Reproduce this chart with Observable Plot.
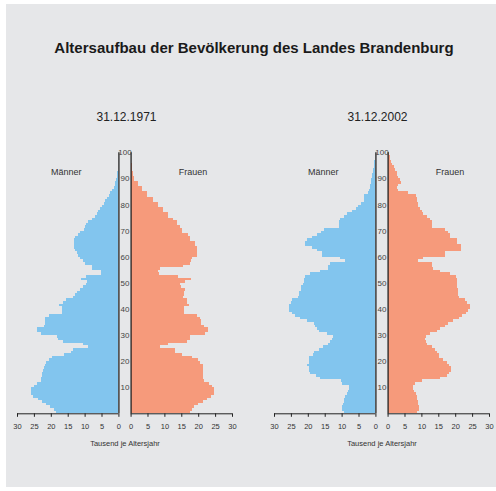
<!DOCTYPE html>
<html>
<head>
<meta charset="utf-8">
<script src="https://cdn.jsdelivr.net/npm/d3@7"></script>
<script src="https://cdn.jsdelivr.net/npm/@observablehq/plot@0.6"></script>
<style>
  html, body { margin: 0; padding: 0; background: #fff; overflow: hidden; }
  #wrap { position: relative; width: 496px; height: 491px; font-family: "Liberation Sans", Arial, Helvetica, sans-serif; color: #333; }
  #bg { position: absolute; left: 6px; top: 4px; width: 490px; height: 483px; background: #e6e7e9; }
  .t { position: absolute; white-space: nowrap; transform: translate(-50%, -50%); }
  .panel { position: absolute; top: 140px; width: 248px; height: 320px; }
  .panel svg { max-width: none !important; }
</style>
</head>
<body>
<div id="wrap">
  <div id="bg"></div>
</div>
<script>
// ---- data (thousands per single year of age, ages 0..99) ----
const title = "Altersaufbau der Bevölkerung des Landes Brandenburg";
const panelTitles = ["31.12.1971", "31.12.2002"];
const sexLabels = ["Männer", "Frauen"];
const xLabel = "Tausend je Altersjahr";
const xTicks = [0, 5, 10, 15, 20, 25, 30];
const ageTicks = [10, 20, 30, 40, 50, 60, 70, 80, 90, 100];

const men1971 = [
  18.5, 19, 20.3, 21.3, 22.5, 23.8, 25.2, 25.8, 26, 26,
  25, 24.2, 23, 23, 22.7, 22.5, 22.3, 22, 21.7, 21.3,
  20.5, 19.5, 16, 14, 13.5, 9, 10.5, 16.5, 18, 18.3,
  23, 24, 24, 22, 21.8, 21.8, 21.8, 20.5, 16.8, 16.8,
  16.8, 17.5, 16.5, 15.5, 13.5, 12.8, 12.3, 11.5, 10.5, 9.5,
  9.3, 11, 9.5, 5.2, 5.2, 7.8, 7.8, 10, 10.5, 11.3,
  12, 12.2, 12.8, 13, 13.1, 13.1, 13, 12.8, 12.1, 11.5,
  10.2, 10, 9.6, 9.1, 7.8, 7, 6.4, 5.9, 5.4, 4.9,
  4.4, 3.9, 3.4, 2.9, 2.4, 1.9, 1.4, 1.1, 0.9, 0.7,
  0.5, 0.4, 0.3, 0.2, 0.1, 0, 0, 0, 0, 0
];
const women1971 = [
  17.5, 18.3, 18.8, 19.9, 21.3, 22.5, 23.7, 24.7, 24.7, 24.7,
  24.2, 23.1, 21.7, 21.5, 21.5, 21.5, 21.3, 21.3, 21.3, 20.5,
  19.8, 18.3, 15.1, 13.1, 13.1, 8.7, 11, 16.6, 17.7, 17.5,
  22, 23, 23, 21.7, 20.7, 20.7, 20.5, 19.5, 15.8, 15.8,
  15.8, 17.2, 16.6, 16.6, 15.6, 15.8, 15.8, 16.1, 15, 14.6,
  16.1, 18, 14, 8.5, 8.2, 8.7, 15.5, 17.5, 18, 18.3,
  19.5, 19.5, 19.7, 19.7, 19, 19, 17.5, 17.5, 17, 15.1,
  15.1, 14.6, 13.6, 13.6, 12.6, 11.2, 11.2, 9.7, 9.7, 8.2,
  8.2, 6.6, 6.6, 4.8, 4.8, 3.3, 3.3, 2.1, 2.1, 1.1,
  1.1, 0.7, 0.7, 0.5, 0.4, 0.3, 0.1, 0, 0, 0
];
const men2002 = [
  9.2, 9.8, 9.8, 9.6, 9.2, 9.2, 8.9, 8.4, 8.1, 7.7,
  7.7, 9.9, 10.1, 16.3, 17.5, 19.3, 19.5, 19.5, 20.1, 19.5,
  19.5, 19.5, 18.5, 18.3, 16.7, 15.5, 13.9, 13.4, 12.9, 12.5,
  14.2, 16.8, 17.3, 17.8, 18.3, 20.2, 22.3, 23.8, 24.8, 25.7,
  25.7, 25.7, 25, 24.7, 22.8, 22.5, 22.5, 22.1, 22.1, 21.5,
  21.1, 21.1, 20.7, 19.3, 16.3, 13.9, 13.9, 13.4, 8.9, 10.4,
  15.8, 15.8, 17.3, 18.8, 20.8, 20.8, 20.3, 18.8, 17.3, 16.1,
  15.1, 10.9, 10.9, 10.9, 10.6, 9.4, 8.4, 6.9, 5.8, 5.2,
  4.3, 3.5, 3.5, 3.4, 2.2, 2, 1.7, 1.5, 1.3, 1.2,
  1, 0.9, 0.7, 0.6, 0.4, 0.3, 0.3, 0.2, 0.1, 0.1
];
const women2002 = [
  8.7, 9.2, 9.2, 8.9, 8.9, 8.8, 8.8, 8.5, 7.9, 7.4,
  7.4, 8.2, 10.1, 15.5, 17.5, 18.3, 18.7, 18.7, 18.3, 17.5,
  16.5, 15.3, 15.3, 14.6, 14.1, 13.1, 11.6, 11.4, 11, 11.3,
  12.6, 14.6, 15.5, 17, 18, 19.3, 21, 21.9, 23.2, 23.9,
  24.4, 24.4, 23.6, 22.9, 21.2, 20.9, 20.9, 20.9, 20.5, 20.5,
  20.6, 20.6, 20.3, 18.5, 15.5, 13.4, 13.1, 13.1, 9.1, 10.6,
  17, 17, 21.6, 21.6, 21.6, 20.5, 20.5, 18.5, 18.5, 18,
  17, 13.1, 13.1, 13.1, 12.6, 11.6, 10.6, 10.1, 9.6, 9.1,
  9.1, 8.8, 8.8, 8.5, 6, 3.2, 2.7, 3.2, 3.9, 3.7,
  3.2, 2.8, 2.7, 2.3, 1.8, 1.3, 1.1, 0.8, 0.6, 0.4
];

// ---- styling ----
const BLUE = "#82c5ee";
const SALMON = "#f69a7b";
const INK = "#222";
const G = 1.8; // half-gap between the two halves, in data units
const FONT = '"Liberation Sans", Arial, Helvetica, sans-serif';

const wrap = document.getElementById("wrap");
function addText(txt, x, y, css) {
  const d = document.createElement("div");
  d.className = "t";
  d.textContent = txt;
  d.style.left = x + "px";
  d.style.top = y + "px";
  Object.assign(d.style, css || {});
  wrap.appendChild(d);
}

addText(title, 254, 47, {fontSize: "15px", fontWeight: "bold", color: "#1a1a1a"});

function pyramid(men, women) {
  const rowsM = men.map((v, i) => ({age: i, v})).filter(d => d.v > 0);
  const rowsW = women.map((v, i) => ({age: i, v})).filter(d => d.v > 0);
  const maxT = d3.max(xTicks);
  const tickPos = [...xTicks.map(t => -t - G), ...xTicks.map(t => t + G)];
  return Plot.plot({
    width: 248,
    height: 320,
    marginLeft: 17,
    marginRight: 16,
    marginTop: 12.3,
    marginBottom: 46.7,
    style: {background: "transparent", fontFamily: FONT, color: "#333", overflow: "visible", maxWidth: "none"},
    x: {domain: [-maxT - G, maxT + G], axis: null},
    y: {domain: [0, 100], axis: null},
    marks: [
      Plot.rect(rowsM, {x1: () => -G, x2: d => -d.v - G, y1: d => d.age, y2: d => d.age + 1, fill: BLUE, shapeRendering: "crispEdges"}),
      Plot.rect(rowsW, {x1: () => G, x2: d => d.v + G, y1: d => d.age, y2: d => d.age + 1, fill: SALMON, shapeRendering: "crispEdges"}),
      Plot.ruleX([-G, G], {y1: () => 0, y2: () => d3.max(ageTicks), stroke: INK, strokeWidth: 1.3}),
      Plot.ruleY([0], {x1: () => -maxT - G, x2: () => -G, stroke: INK, strokeWidth: 1}),
      Plot.ruleY([0], {x1: () => G, x2: () => maxT + G, stroke: INK, strokeWidth: 1}),
      Plot.axisX(tickPos, {
        tickFormat: d => String(Math.round(Math.abs(d) - G)),
        tickSize: 3.5, tickPadding: 6.5, fontSize: 7.5, stroke: INK, fill: "#333", strokeWidth: 1
      }),
      Plot.text(ageTicks, {x: () => 0, y: d => d, text: d => String(d), fontSize: 8, fill: "#444"})
    ]
  });
}

const panels = [[men1971, women1971], [men2002, women2002]];
const offsets = [0, 257];
panels.forEach(([m, w], i) => {
  const host = document.createElement("div");
  host.className = "panel";
  host.style.left = offsets[i] + "px";
  host.appendChild(pyramid(m, w));
  wrap.appendChild(host);
  const ox = offsets[i];
  addText(panelTitles[i], ox + (i === 0 ? 126.5 : 120.5), 116.5, {fontSize: "12px", color: "#222"});
  addText(sexLabels[0], ox + 66.3, 172, {fontSize: "9px", color: "#333"});
  addText(sexLabels[1], ox + 193, 172, {fontSize: "9px", color: "#333"});
  addText(xLabel, ox + 125, 442.7, {fontSize: "7.5px", color: "#333"});
});
</script>
</body>
</html>
